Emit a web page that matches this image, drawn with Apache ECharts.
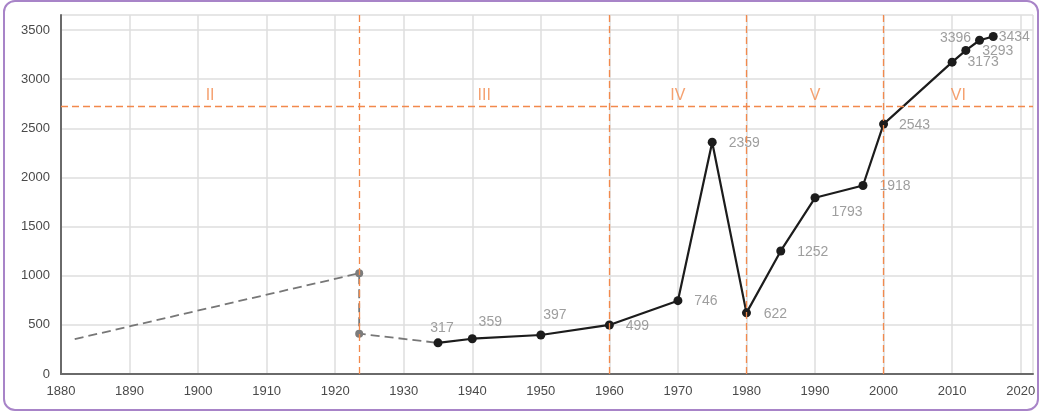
<!DOCTYPE html>
<html>
<head>
<meta charset="utf-8">
<script src="https://cdn.jsdelivr.net/npm/echarts@6/dist/echarts.min.js"></script>
<style>
  html, body { margin: 0; padding: 0; background: #ffffff; }
  #chart { width: 1041px; height: 414px; }
  #frame { position: absolute; left: 3px; top: 0px; width: 1036px; height: 411px;
           border: 2px solid #a884c8; border-radius: 12px; box-sizing: border-box; pointer-events: none; }
</style>
</head>
<body>
<div id="chart"></div>
<div id="frame"></div>
<script>
// ---- data ----
var years = [1935, 1940, 1950, 1960, 1970, 1975, 1980, 1985, 1990, 1997, 2000, 2010, 2012, 2014, 2016];
var values = [317, 359, 397, 499, 746, 2359, 622, 1252, 1793, 1918, 2543, 3173, 3293, 3396, 3434];
var estYears = [1882, 1923.5, 1923.5, 1935];
var estValues = [355, 1025, 410, 317];
var periodBounds = [1880, 1923.5, 1960, 1980, 2000, 2021.8];
var periodNames = ['II', 'III', 'IV', 'V', 'VI'];
var periodLevel = 2725;
var xTicks = [1880, 1890, 1900, 1910, 1920, 1930, 1940, 1950, 1960, 1970, 1980, 1990, 2000, 2010, 2020];
var yTicks = [0, 500, 1000, 1500, 2000, 2500, 3000, 3500];

// ---- label placement (style) ----
var labelOffsets = [
  [4, -15], [18, -17], [14, -20], [28, 1], [28, 0], [32, 1], [29, 1], [32, 1],
  [32, 14], [32, 1], [31, 1], [31, 0], [32, 1], [-24, -2], [21, 1]
];

var mainData = years.map(function (y, i) {
  return {
    value: [y, values[i]],
    label: { show: true, position: 'inside', offset: labelOffsets[i],
             formatter: String(values[i]), color: '#9e9e9e', fontSize: 14,
             fontFamily: 'Liberation Sans, Arial, sans-serif' }
  };
});

var estData = estYears.map(function (y, i) {
  var ends = (i === 0 || i === estYears.length - 1);
  return { value: [y, estValues[i]], symbol: ends ? 'none' : 'circle' };
});

var periodData = periodNames.map(function (n, i) {
  return { value: [(periodBounds[i] + periodBounds[i + 1]) / 2, periodLevel], name: n };
});

var orange = '#f2894c';
var chart = echarts.init(document.getElementById('chart'));
chart.setOption({
  animation: false,
  backgroundColor: '#ffffff',
  grid: { left: 61, right: 8, top: 15, bottom: 40, containLabel: false },
  xAxis: {
    type: 'value', min: 1880, max: 2021.8, interval: 10,
    axisLine: { show: true, lineStyle: { color: '#6a6a6a', width: 2 } },
    axisTick: { show: false },
    axisLabel: { color: '#4a4a4a', fontSize: 13, margin: 11, showMaxLabel: false,
                 fontFamily: 'Liberation Sans, Arial, sans-serif',
                 formatter: function (v) { return xTicks.indexOf(v) >= 0 ? String(v) : ''; } },
    splitLine: { show: true, lineStyle: { color: '#dedede', width: 1.5 } }
  },
  yAxis: {
    type: 'value', min: 0, max: 3653, interval: 500,
    axisLine: { show: true, lineStyle: { color: '#6a6a6a', width: 2 } },
    axisTick: { show: false },
    axisLabel: { color: '#4a4a4a', fontSize: 13, margin: 11, showMaxLabel: false,
                 fontFamily: 'Liberation Sans, Arial, sans-serif',
                 formatter: function (v) { return yTicks.indexOf(v) >= 0 ? String(v) : ''; } },
    splitLine: { show: true, lineStyle: { color: '#dedede', width: 1.5 } }
  },
  series: [
    {
      type: 'line', data: [], silent: true, z: 1,
      markLine: {
        silent: true, symbol: 'none', label: { show: false },
        lineStyle: { color: orange, type: [7, 4], width: 1.3 },
        data: periodBounds.slice(1, 5).map(function (b) { return { xAxis: b }; })
          .concat([{ yAxis: periodLevel }])
      }
    },
    {
      type: 'line', data: estData, z: 2,
      symbol: 'circle', symbolSize: 8, showSymbol: true,
      itemStyle: { color: '#7c7c7c' },
      lineStyle: { color: '#777777', width: 1.8, type: [9, 5] }
    },
    {
      type: 'line', data: mainData, z: 3,
      symbol: 'circle', symbolSize: 9,
      itemStyle: { color: '#1c1c1c' },
      lineStyle: { color: '#1c1c1c', width: 2.2 }
    },
    {
      type: 'scatter', data: periodData, symbolSize: 0, z: 4,
      label: { show: true, position: 'top', distance: 3, color: orange, fontSize: 16,
               fontFamily: 'Liberation Sans, Arial, sans-serif',
               formatter: function (p) { return p.name; } }
    }
  ]
});
</script>
</body>
</html>
